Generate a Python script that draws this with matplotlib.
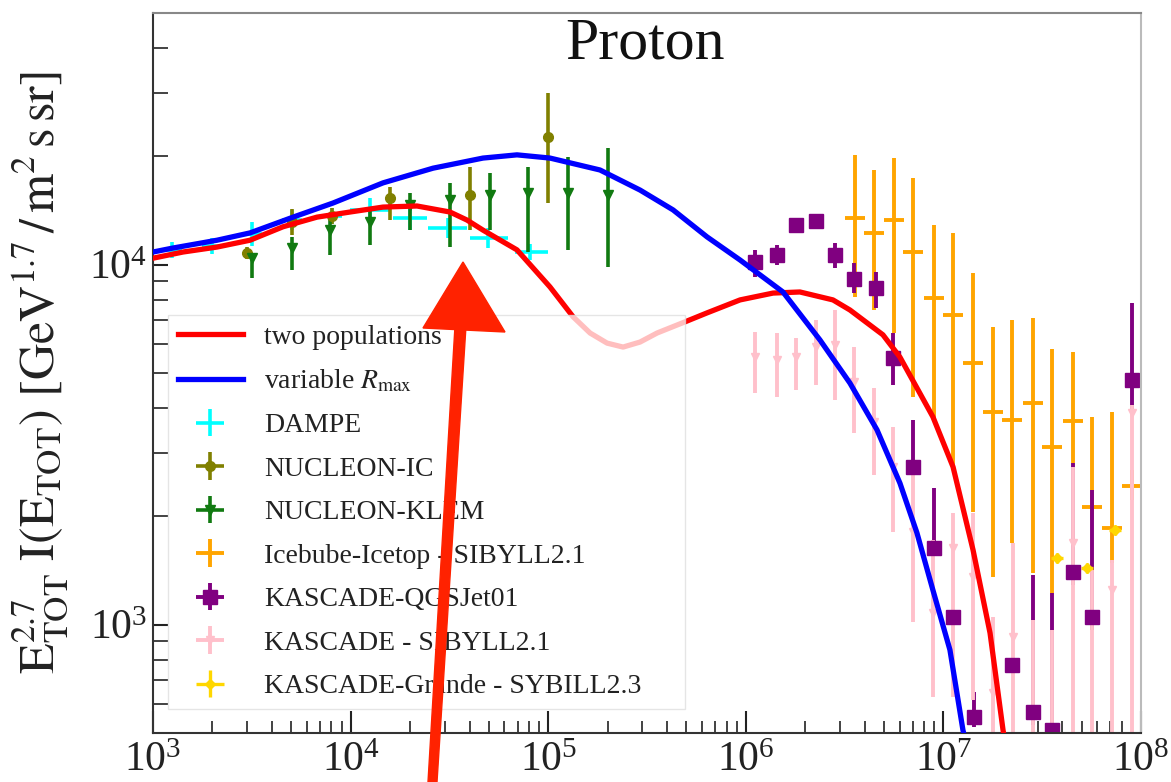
import matplotlib

matplotlib.use("Agg")
import matplotlib.pyplot as plt
from matplotlib.patches import Polygon
from matplotlib.transforms import IdentityTransform
from matplotlib.ticker import LogLocator, NullFormatter

plt.rcParams["font.family"] = ["Liberation Serif", "DejaVu Serif"]
plt.rcParams["mathtext.fontset"] = "stix"

# --- model curves ---
two_pop_E = [1.0e3, 1.419e3, 2.109e3, 3.097e3, 4.55e3, 6.761e3, 9.931e3, 1.459e4, 2.168e4,
             3.184e4, 3.881e4, 4.677e4, 6.95e4, 1.021e5, 1.337e5, 1.629e5, 1.986e5, 2.393e5,
             2.917e5, 3.556e5, 4.92e5, 6.368e5, 9.354e5, 1.374e6, 1.879e6, 2.761e6, 3.365e6,
             4.943e6, 6.026e6, 8.851e6, 1.119e7, 1.413e7, 1.722e7, 2.004e7, 2.123e7]
two_pop_F = [10420, 10840, 11190, 11690, 12740, 13550, 14000, 14450, 14550,
             14000, 13300, 12470, 10990, 8670, 7161, 6457, 6053, 5902,
             6095, 6457, 6934, 7345, 7980, 8337, 8395, 7980, 7482,
             6383, 5534, 3776, 2742, 1611, 948, 509, 421]

rmax_E = [1.0e3, 1.262e3, 2.109e3, 3.097e3, 5.117e3, 8.147e3, 1.459e4, 2.612e4, 4.677e4,
          6.95e4, 1.021e5, 1.828e5, 2.917e5, 4.285e5, 6.368e5, 9.354e5, 1.542e6, 2.371e6,
          3.365e6, 4.613e6, 6.026e6, 7.345e6, 8.851e6, 1.079e7, 1.256e7, 1.365e7]
rmax_F = [10840, 11120, 11690, 12250, 13550, 14830, 16870, 18530, 19770,
          20180, 19770, 18320, 16110, 14190, 11940, 10300, 8395, 6180,
          4688, 3475, 2472, 1799, 1247, 851, 509, 421]

# --- DAMPE ---
dampe_E = [1248, 1991, 3170, 5047, 8054, 12530, 19990, 31120, 49550, 80910]
dampe_Elo = [1112, 1770, 2818, 4498, 7161, 9931, 16410, 24660, 40180, 67920]
dampe_Ehi = [1403, 2234, 3565, 5675, 9036, 15810, 24380, 38810, 62660, 99770]
dampe_F = [10990, 11270, 12170, 13300, 13650, 14200, 13490, 12650, 11850, 10840]
dampe_Flo = [10450, 10710, 11270, 12480, 12980, 13150, 12490, 11870, 11120, 10300]
dampe_Fhi = [11560, 11860, 13140, 14180, 14360, 15340, 14570, 13480, 12630, 11400]

# --- NUCLEON-IC ---
nic_E = [2992, 5047, 8054, 15810, 40180, 99770]
nic_F = [10760, 13150, 13650, 15310, 15600, 22630]
nic_Flo = [10370, 12080, 12970, 13300, 12470, 14830]
nic_Fhi = [11190, 14290, 14360, 16440, 18660, 29990]

# --- NUCLEON-KLEM ---
nklem_E = [3170, 5047, 7870, 12530, 19990, 31840, 50700, 79070, 125900, 200800]
nklem_F = [10420, 11120, 12470, 13150, 14660, 15140, 15600, 15810, 15810, 15600]
nklem_Flo = [9183, 9661, 10640, 11350, 12470, 11190, 12470, 10840, 10990, 9840]
nklem_Fhi = [10760, 11940, 13900, 14190, 15810, 16870, 17990, 18660, 19910, 21090]

# --- IceCube-IceTop SIBYLL2.1 ---
icetop_E = [3.573e6, 4.457e6, 5.623e6, 7.015e6, 8.954e6, 1.119e7, 1.413e7, 1.782e7,
            2.223e7, 2.838e7, 3.548e7, 4.529e7, 5.649e7, 7.129e7, 8.995e7]
icetop_Elo = [3.179e6, 3.965e6, 5.003e6, 6.241e6, 7.966e6, 9.956e6, 1.257e7, 1.585e7,
              1.978e7, 2.525e7, 3.157e7, 4.029e7, 5.026e7, 6.343e7, 8.003e7]
icetop_Ehi = [4.016e6, 5.010e6, 6.320e6, 7.885e6, 1.006e7, 1.258e7, 1.588e7, 2.003e7,
              2.499e7, 3.190e7, 3.988e7, 5.091e7, 6.349e7, 8.013e7, 1.011e8]
icetop_F = [13490, 12250, 13300, 10840, 8072, 7244, 5333, 3899,
            3698, 4130, 3112, 3681, 2123, 1854, 2427]
icetop_Flo = [8128, 7482, 6457, 4285, 3698, 2692, 2056, 1355,
              1687, 1390, 1225, 2812, 1954, 1483, 2218]
icetop_Fhi = [20180, 18320, 19770, 17420, 12880, 12250, 9484, 6714,
              7015, 7112, 5834, 5715, 3776, 3899, 2692]

# --- KASCADE QGSJet01 ---
kqgs_E = [1.114e6, 1.439e6, 1.795e6, 2.265e6, 2.825e6, 3.532e6, 4.56e6, 5.559e6, 7.015e6,
          8.954e6, 1.119e7, 1.429e7, 2.223e7, 2.838e7, 3.548e7, 4.529e7, 5.649e7, 8.995e7]
kqgs_F = [10160, 10640, 12880, 13210, 10640, 9120, 8610, 5508, 2742,
          1633, 1050, 553, 773, 571, 509, 1400, 1050, 4786]
kqgs_Flo = [9247, 9977, 12330, 12650, 9795, 8337, 7586, 4634, 2606,
            1560, 1016, 520, 748, 526, 479, 1288, 966, 3945]
kqgs_Fhi = [10990, 11350, 13490, 13840, 11480, 10120, 9550, 6457, 3698,
            2399, 1084, 650, 798, 1374, 1225, 2812, 2366, 7816]

# --- KASCADE SIBYLL2.1 ---
ksib_E = [1.114e6, 1.439e6, 1.795e6, 2.265e6, 2.825e6, 3.532e6, 4.457e6, 5.559e6, 7.015e6,
          8.851e6, 1.119e7, 1.413e7, 1.782e7, 2.249e7, 2.838e7, 3.548e7, 4.529e7, 5.649e7,
          7.129e7, 8.995e7]
ksib_F = [5534, 5433, 5534, 5902, 5984, 4721, 3656, 2742, 1807,
          1076, 1633, 1355, 646, 925, 348, 348, 1687, 348,
          1247, 3873]
ksib_Flo = [4395, 4285, 4487, 4634, 4207, 3404, 2606, 1807, 1016,
            630, 630, 618, 421, 421, 237, 237, 421, 237,
            421, 421]
ksib_Fhi = [6501, 6457, 6252, 7015, 7482, 5902, 4539, 3540, 2742,
            1718, 2042, 2042, 1050, 1687, 1030, 966, 2742, 1419,
            1514, 4074]

# --- KASCADE-Grande SYBILL2.3 ---
kgr_E = [3.758e7, 5.333e7, 7.379e7]
kgr_Elo = [3.506e7, 4.975e7, 6.883e7]
kgr_Ehi = [4.029e7, 5.717e7, 7.910e7]
kgr_F = [1531, 1436, 1832]
kgr_Flo = [1482, 1390, 1773]
kgr_Fhi = [1582, 1483, 1892]


def _yerr(F, lo, hi):
    return [[f - l for f, l in zip(F, lo)], [h - f for f, h in zip(F, hi)]]


def _xerr(E, lo, hi):
    return [[e - l for e, l in zip(E, lo)], [h - e for e, h in zip(E, hi)]]


fig = plt.figure(figsize=(11.71, 7.82), dpi=100)
ax = fig.add_axes([153 / 1171, 49 / 782, 988 / 1171, 720 / 782])
ax.set_xscale("log")
ax.set_yscale("log")

h_red, = ax.plot(two_pop_E, two_pop_F, color="#ff0000", lw=3.8, zorder=3)
h_blue, = ax.plot(rmax_E, rmax_F, color="#0000ff", lw=3.8, zorder=3)

h_dampe = ax.errorbar(dampe_E, dampe_F, yerr=_yerr(dampe_F, dampe_Flo, dampe_Fhi),
                      xerr=_xerr(dampe_E, dampe_Elo, dampe_Ehi), fmt="none",
                      ecolor="#00ffff", elinewidth=2.6, capsize=0, zorder=2)
h_nic = ax.errorbar(nic_E, nic_F, yerr=_yerr(nic_F, nic_Flo, nic_Fhi), xerr=[0] * len(nic_E),
                    fmt="o", ms=7, color="#808000", elinewidth=2.6, capsize=0, zorder=2)
h_nklem = ax.errorbar(nklem_E, nklem_F, yerr=_yerr(nklem_F, nklem_Flo, nklem_Fhi),
                      xerr=[0] * len(nklem_E), fmt="v", ms=7, color="#117a11",
                      elinewidth=2.6, capsize=0, zorder=2)
h_icetop = ax.errorbar(icetop_E, icetop_F, yerr=_yerr(icetop_F, icetop_Flo, icetop_Fhi),
                       xerr=_xerr(icetop_E, icetop_Elo, icetop_Ehi), fmt="none",
                       ecolor="#ffa500", elinewidth=2.8, capsize=0, zorder=2)
h_kqgs = ax.errorbar(kqgs_E, kqgs_F, yerr=_yerr(kqgs_F, kqgs_Flo, kqgs_Fhi), xerr=[0] * len(kqgs_E),
                     fmt="s", ms=10, color="#800080", elinewidth=2.8, capsize=0, zorder=2)
h_ksib = ax.errorbar(ksib_E, ksib_F, yerr=_yerr(ksib_F, ksib_Flo, ksib_Fhi), xerr=[0] * len(ksib_E),
                     fmt="v", ms=6, color="#ffc0cb", elinewidth=2.8, capsize=0, zorder=2)
h_kgr = ax.errorbar(kgr_E, kgr_F, yerr=_yerr(kgr_F, kgr_Flo, kgr_Fhi),
                    xerr=_xerr(kgr_E, kgr_Elo, kgr_Ehi), fmt="D", ms=5, color="#ffd700",
                    elinewidth=2.4, capsize=0, zorder=2)

ax.set_xlim(1e3, 1e8)
ax.set_ylim(500, 5e4)

ax.xaxis.set_major_locator(LogLocator(base=10, numticks=10))
ax.xaxis.set_minor_locator(LogLocator(base=10, subs=range(2, 10), numticks=100))
ax.yaxis.set_minor_formatter(NullFormatter())
ax.xaxis.set_minor_formatter(NullFormatter())
ax.tick_params(which="both", direction="in", top=False, right=False, colors="#222222",
               labelsize=30, labelcolor="#222222")
ax.tick_params(axis="x", which="major", length=16, width=1.5, pad=6)
ax.tick_params(axis="x", which="minor", length=9, width=1.2)
ax.tick_params(axis="y", which="major", length=11, width=1.5, pad=4)
ax.tick_params(axis="y", which="minor", length=11, width=1.2)

ax.spines["left"].set_color("#333333")
ax.spines["bottom"].set_color("#333333")
ax.spines["top"].set_color("#888888")
ax.spines["right"].set_color("#bbbbbb")
for s in ax.spines.values():
    s.set_linewidth(1.5)

ax.set_ylabel(r"$\mathrm{E^{2.7}_{TOT}\ I(E_{TOT})\ \left[GeV^{1.7}\,/\,m^{2}\,s\,sr\right]}$",
              fontsize=36, color="#222222")
ax.yaxis.set_label_coords(-0.084, 0.5)

ax.text(0.498, 0.994, "Proton", transform=ax.transAxes, ha="center", va="top",
        fontsize=43, color="#111111")

handles = [h_red, h_blue, h_dampe, h_nic, h_nklem, h_icetop, h_kqgs, h_ksib, h_kgr]
labels = ["two populations", r"variable $R_{\rm max}$", "DAMPE", "NUCLEON-IC", "NUCLEON-KLEM",
          "Icebube-Icetop - SIBYLL2.1", "KASCADE-QGSJet01", "KASCADE - SIBYLL2.1",
          "KASCADE-Grande - SYBILL2.3"]
leg = ax.legend(handles, labels, loc="upper left", bbox_to_anchor=(0.0152, 0.5806, 0.523, 0),
                mode="expand", fontsize=20, labelspacing=0.65, handlelength=2.35,
                handletextpad=0.75, borderpad=0.35, borderaxespad=0, fancybox=False,
                framealpha=0.75, edgecolor="#dddddd")
for t in leg.get_texts():
    t.set_color("#222222")

# hand-drawn red arrow overlay on the reference
H = 782
shaft = Polygon([(428, H - 782), (437, H - 782), (466, H - 326), (455, H - 326)],
                closed=True, transform=IdentityTransform(), color="#ff2200", zorder=10)
head = Polygon([(423, H - 328), (505, H - 332), (463, H - 262)],
               closed=True, transform=IdentityTransform(), color="#ff2200", zorder=10)
fig.patches.extend([shaft, head])

fig.savefig("out.png", dpi=100)
